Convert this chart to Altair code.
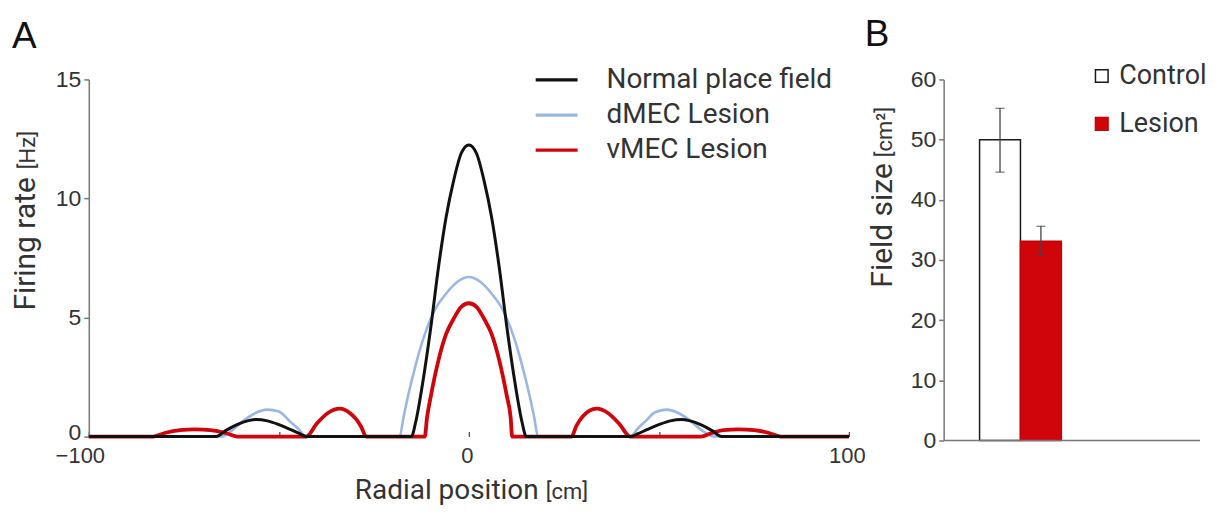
import altair as alt
import pandas as pd

# ---------------- Panel A data ----------------
series_names = ["Normal place field", "dMEC Lesion", "vMEC Lesion"]
series_colors = ["#111111", "#9ab6e2", "#d0050c"]
series_widths = [3.0, 2.6, 3.8]

normal_x = [-100, -66.5, -64, -61, -58, -56, -53, -50, -47, -44.5, -42.8,
            -15.1, -14, -12, -10, -8, -6, -4, -2, 0, 2, 4, 6, 8, 10, 12, 14, 15.1,
            42.5, 44.5, 47, 50, 53, 56, 58, 61, 64, 66.5, 100]
normal_y = [0, 0, 0.25, 0.5, 0.67, 0.72, 0.66, 0.5, 0.3, 0.12, 0,
            0, 0.6, 2.4, 4.6, 7.1, 9.2, 10.75, 11.9, 12.25, 11.9, 10.75, 9.2, 7.1, 4.6, 2.4, 0.6, 0,
            0, 0.12, 0.3, 0.5, 0.66, 0.72, 0.67, 0.5, 0.25, 0, 0]

dmec_x = [-100, -65, -62, -59, -56, -53, -50, -47, -45, -42.8,
          -18.2, -17.2, -16, -14, -12, -9, -6, -3, 0, 3, 6, 9, 12, 14, 16, 17.2, 18.2,
          42.5, 44.5, 46.5, 49, 52, 55, 58, 61, 64.5, 100]
dmec_y = [0, 0, 0.3, 0.7, 1.0, 1.13, 1.05, 0.62, 0.35, 0,
          0, 0.8, 1.7, 3.0, 4.1, 5.3, 6.0, 6.5, 6.7, 6.5, 6.0, 5.3, 4.1, 3.0, 1.7, 0.8, 0,
          0, 0.35, 0.65, 1.02, 1.13, 1.0, 0.7, 0.3, 0, 0]

vmec_x = [-100, -83, -80, -76, -72, -68, -64, -61, -42.8, -40, -37, -34, -31, -29.6, -28.3, -27,
          -11.6, -11, -10, -8, -6, -4, -2, 0, 2, 4, 6, 8, 10, 11, 11.4,
          27, 28.3, 30, 33.6, 36.5, 39.5, 42.5, 61, 64, 67, 71, 75, 79, 82, 100]
vmec_y = [0, 0, 0.15, 0.27, 0.3, 0.27, 0.15, 0, 0, 0.55, 1.0, 1.17, 0.95, 0.72, 0.4, 0,
          0, 0.8, 1.7, 3.2, 4.3, 4.95, 5.45, 5.6, 5.45, 4.95, 4.3, 3.2, 1.7, 0.8, 0,
          0, 0.45, 0.85, 1.17, 1.0, 0.55, 0, 0, 0.15, 0.27, 0.3, 0.27, 0.15, 0, 0]

x_ticks = [-100, -50, 0, 50, 100]
y_ticks_a = [0, 5, 10, 15]

# ---------------- Panel B data ----------------
groups = ["Control", "Lesion"]
field_size = [50.0, 33.1]
err_low = [44.6, 30.8]
err_high = [55.2, 35.6]
bar_fill = ["#ffffff", "#d0050c"]
bar_stroke = ["#1a1a1a", "#c0040a"]
y_ticks_b = [0, 10, 20, 30, 40, 50, 60]

A_W, A_H = 762, 358
B_W, B_H = 257, 362
TXT = "#333333"
TFONT = "Roboto"
NFONT = "Liberation Sans"
TSIZE = 28      # legend text
ASIZE = 30      # rotated axis titles
XSIZE = 28      # x axis title
SSIZE = 22      # bracketed units

rows = []
for name, xs, ys in zip(series_names, [normal_x, dmec_x, vmec_x], [normal_y, dmec_y, vmec_y]):
    for xv, yv in zip(xs, ys):
        rows.append({"series": name, "x": xv, "y": yv})
dfA = pd.DataFrame(rows)


def txt(text, x, y, size, angle=0, align="left", font=TFONT, color=TXT):
    kw = dict(align=align, baseline="alphabetic", font=font, fontSize=size, color=color)
    if angle:
        kw["angle"] = angle
    return alt.Chart(pd.DataFrame({"t": [text]})).mark_text(**kw).encode(
        text="t:N", x=alt.value(x), y=alt.value(y))


def guide(x, y):
    # invisible zero-length rule that pins the outer layout bounds
    return alt.Chart(pd.DataFrame({"g": [0]})).mark_rule(opacity=0, strokeWidth=0).encode(
        x=alt.value(x), x2=alt.value(x), y=alt.value(y), y2=alt.value(y))


xA = alt.X("x:Q", scale=alt.Scale(domain=[-100, 100], nice=False),
           axis=alt.Axis(values=x_ticks, labelExpr="abs(datum.value) == 50 ? '' : datum.label",
                         labelFlush=False,
                         labelOffset={"condition": {"test": "datum.value == -100", "value": -9},
                                      "value": -2},
                         domain=False, offset=-5, tickSize=5, tickColor="#444", tickWidth=1.2,
                         labelPadding=9, labelFont=NFONT, labelFontSize=22, labelColor=TXT,
                         grid=False, title=None))
yA = alt.Y("y:Q", scale=alt.Scale(domain=[0, 15], nice=False),
           axis=alt.Axis(values=y_ticks_a, domainColor="#777", domainWidth=1.5, tickColor="#777",
                         tickWidth=1.5, tickSize=5, labelPadding=3, labelFont=NFONT,
                         labelOffset={"condition": {"test": "datum.value == 0", "value": -4},
                                      "value": 0},
                         labelFontSize=23, labelColor=TXT, grid=False, title=None))
colorA = alt.Color("series:N", scale=alt.Scale(domain=series_names, range=series_colors),
                   legend=alt.Legend(title=None, orient="none", legendX=452, legendY=-16.5,
                                     symbolType="M-1.4,0H1.4", symbolSize=900, symbolStrokeWidth=3.2,
                                     labelFont=TFONT, labelFontSize=TSIZE, labelColor=TXT,
                                     labelOffset=33, labelLimit=0, rowPadding=4.2, padding=0))

line_layers = []
for name in ["dMEC Lesion", "vMEC Lesion", "Normal place field"]:
    w = series_widths[series_names.index(name)]
    line_layers.append(
        alt.Chart(dfA).transform_filter(alt.datum.series == name)
        .mark_line(interpolate="monotone", strokeWidth=w)
        .encode(x=xA, y=yA, color=colorA)
    )

panelA = alt.layer(
    *line_layers,
    guide(-81, -71),
    txt("A", -77, -32, 37, font=NFONT, color="#111"),
    txt("Firing rate", -54, 98, ASIZE, angle=270, align="right"),
    txt("[Hz]", -54, 90, SSIZE, angle=270, align="left"),
    txt("Radial position", 451, 421, XSIZE, align="right"),
    txt("[cm]", 458, 421, SSIZE, align="left"),
).properties(width=A_W, height=A_H)

# ---------------- Panel B ----------------
dfB = pd.DataFrame({"group": groups, "size": field_size, "lo": err_low, "hi": err_high})
xB = alt.X("group:N", scale=alt.Scale(domain=groups, range=[36, 118], paddingInner=0, paddingOuter=0),
           axis=None)
yB_scale = alt.Scale(domain=[0, 60], nice=False)
legB = dict(title=None, orient="none", legendX=145, legendY=-17, symbolType="square", symbolSize=160,
            symbolStrokeWidth=1.5, labelFont=TFONT, labelFontSize=27, labelColor=TXT,
            labelOffset=4, labelLimit=0, rowPadding=20, padding=0)

bars = alt.Chart(dfB).mark_bar(strokeWidth=1.5).encode(
    x=xB,
    y=alt.Y("size:Q", scale=yB_scale,
            axis=alt.Axis(values=y_ticks_b, domainColor="#777", domainWidth=1.5, tickColor="#777",
                          tickWidth=1.5, tickSize=5, labelPadding=3, labelFont=NFONT,
                          labelFontSize=23, labelColor=TXT, grid=False, title=None)),
    fill=alt.Fill("group:N", scale=alt.Scale(domain=groups, range=bar_fill), legend=alt.Legend(**legB)),
    stroke=alt.Stroke("group:N", scale=alt.Scale(domain=groups, range=bar_stroke), legend=alt.Legend(**legB)),
)
err = alt.Chart(dfB).mark_rule(color="#444", strokeWidth=1.3).encode(
    x=xB, y=alt.Y("lo:Q", scale=yB_scale), y2="hi:Q")
cap_hi = alt.Chart(dfB).mark_tick(orient="horizontal", size=9, thickness=1.3, color="#444").encode(
    x=xB, y=alt.Y("hi:Q", scale=yB_scale))
cap_lo = alt.Chart(dfB).mark_tick(orient="horizontal", size=9, thickness=1.3, color="#444").encode(
    x=xB, y=alt.Y("lo:Q", scale=yB_scale))
base = alt.Chart(pd.DataFrame({"v": [0]})).mark_rule(color="#777", strokeWidth=1.5).encode(
    y=alt.Y("v:Q", scale=yB_scale), x=alt.value(0), x2=alt.value(B_W))

panelB = alt.layer(
    bars, err, cap_hi, cap_lo, base,
    txt("B", -79, -34, 37, font=NFONT, color="#111"),
    txt("Field size", -52, 84, ASIZE, angle=270, align="right"),
    txt("[cm²]", -52, 78, SSIZE, angle=270, align="left"),
).properties(width=B_W, height=B_H)

chart = alt.hconcat(panelA, panelB, spacing=95, bounds="flush").resolve_scale(
    color="independent", fill="independent", stroke="independent"
).properties(padding={"left": 0, "top": 0, "right": 0, "bottom": 0}).configure_view(stroke=None)

chart.save("out.html", embed_options={"renderer": "svg", "actions": False})
